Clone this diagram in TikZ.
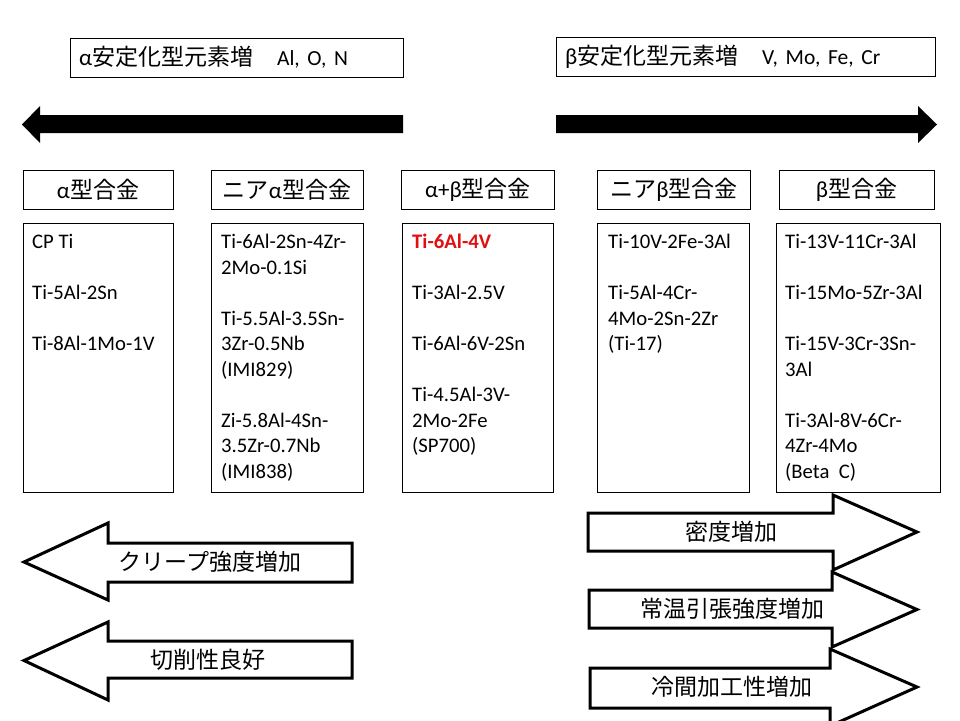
\documentclass[tikz,border=0pt]{standalone}
\usepackage{fontspec}
\setmainfont{Carlito}
\newfontfamily\cjk{Noto Sans CJK JP}
\newcommand{\jtxt}[1]{{\cjk #1}}
\newcommand{\lat}[1]{{\fontsize{21.5}{28}\selectfont #1}}
\definecolor{alloyred}{RGB}{225,15,15}
\tikzset{
  topbox/.style={draw=black, line width=1pt, fill=white, minimum height=39pt, inner xsep=9pt, inner ysep=0pt, align=left, font=\fontsize{23}{28}\selectfont},
  hdrbox/.style={draw=black, line width=1pt, fill=white, minimum height=39pt, inner sep=0pt, font=\fontsize{23}{28}\selectfont},
  listbox/.style={draw=black, line width=1pt, fill=white, inner sep=0pt},
  listtext/.style={anchor=base west, inner sep=0pt, font=\fontsize{20.7}{25.5}\selectfont},
  blockarrow/.style={draw=black, line width=3pt, fill=white, line join=miter},
  bigarrow/.style={fill=black, draw=none},
  arrowlabel/.style={inner sep=0pt, font=\fontsize{23}{28}\selectfont}
}
\begin{document}
\begin{tikzpicture}[x=1pt, y=-1pt]
\useasboundingbox[fill=white] (0,0) rectangle (960,720);

% top boxes
\node[topbox, minimum width=333pt, text width=315pt] (atop) at (236.5,57.5) {α\jtxt{安定化型元素増}\hspace{24pt}\lat{Al, O, N}};
\node[topbox, minimum width=379pt, text width=361pt] (btop) at (745.5,57) {β\jtxt{安定化型元素増}\hspace{24pt}\lat{V, Mo, Fe, Cr}};

% big black arrows
\path[bigarrow] (403,115) -- (40,115) -- (40,106) -- (22,124.5) -- (40,143) -- (40,133) -- (403,133) -- cycle;
\path[bigarrow] (556,115) -- (918,115) -- (918,106) -- (937,124.5) -- (918,143) -- (918,133) -- (556,133) -- cycle;

% header boxes
\node[hdrbox, minimum width=150pt] (h1) at (98,189.5) {α\jtxt{型合金}};
\node[hdrbox, minimum width=152pt] (h2) at (287,189.5) {\jtxt{ニア}α\jtxt{型合金}};
\node[hdrbox, minimum width=153pt] (h3) at (478,189.5) {α+β\jtxt{型合金}};
\node[hdrbox, minimum width=153pt] (h4) at (674,189.5) {\jtxt{ニア}β\jtxt{型合金}};
\node[hdrbox, minimum width=155pt] (h5) at (856.5,189.5) {β\jtxt{型合金}};

% list boxes
\node[listbox, minimum width=150pt, minimum height=269pt] (c1) at (98,357.5) {};
\node[listbox, minimum width=152pt, minimum height=269pt] (c2) at (287,357.5) {};
\node[listbox, minimum width=151pt, minimum height=269pt] (c3) at (477.5,357.5) {};
\node[listbox, minimum width=152pt, minimum height=269pt] (c4) at (673,357.5) {};
\node[listbox, minimum width=164pt, minimum height=269pt] (c5) at (858,357.5) {};

% list texts
\node[listtext] (t1) at (32,248.5) {\parbox[t]{140pt}{\fontsize{20.7}{25.5}\selectfont CP Ti\\[25.5pt]Ti-5Al-2Sn\\[25.5pt]Ti-8Al-1Mo-1V}};
\node[listtext] (t2) at (221,248.5) {\parbox[t]{140pt}{\fontsize{20.7}{25.5}\selectfont Ti-6Al-2Sn-4Zr-\\2Mo-0.1Si\\[25.5pt]Ti-5.5Al-3.5Sn-\\3Zr-0.5Nb\\(IMI829)\\[25.5pt]Zi-5.8Al-4Sn-\\3.5Zr-0.7Nb\\(IMI838)}};
\node[listtext] (t3) at (412,248.5) {\parbox[t]{140pt}{\fontsize{20.7}{25.5}\selectfont \textcolor{alloyred}{\textbf{Ti-6Al-4V}}\\[25.5pt]Ti-3Al-2.5V\\[25.5pt]Ti-6Al-6V-2Sn\\[25.5pt]Ti-4.5Al-3V-\\2Mo-2Fe\\(SP700)}};
\node[listtext] (t4) at (608,248.5) {\parbox[t]{140pt}{\fontsize{20.7}{25.5}\selectfont Ti-10V-2Fe-3Al\\[25.5pt]Ti-5Al-4Cr-\\4Mo-2Sn-2Zr\\(Ti-17)}};
\node[listtext] (t5) at (785,248.5) {\parbox[t]{150pt}{\fontsize{20.7}{25.5}\selectfont Ti-13V-11Cr-3Al\\[25.5pt]Ti-15Mo-5Zr-3Al\\[25.5pt]Ti-15V-3Cr-3Sn-\\3Al\\[25.5pt]Ti-3Al-8V-6Cr-\\4Zr-4Mo\\(Beta~ C)}};

% left block arrows
\path[blockarrow] (352,543) -- (108,543) -- (108,523) -- (24,562) -- (108,600) -- (108,582) -- (352,582) -- cycle;
\node[arrowlabel] (l1) at (210,562) {\jtxt{クリープ強度増加}};
\path[blockarrow] (352,641) -- (108,641) -- (108,622) -- (24,660.5) -- (108,700) -- (108,678) -- (352,678) -- cycle;
\node[arrowlabel] (l2) at (208,660) {\jtxt{切削性良好}};

% right block arrows
\path[blockarrow] (588,513) -- (833,513) -- (833,495) -- (917,532) -- (833,570) -- (833,551) -- (588,551) -- cycle;
\node[arrowlabel] (r1) at (731,532) {\jtxt{密度増加}};
\path[blockarrow] (589,590) -- (832,590) -- (832,572) -- (917,609.5) -- (832,647) -- (832,628) -- (589,628) -- cycle;
\node[arrowlabel] (r2) at (732,609) {\jtxt{常温引張強度増加}};
\path[blockarrow] (590,668) -- (830,668) -- (830,649) -- (917,687) -- (830,726) -- (830,708) -- (590,708) -- cycle;
\node[arrowlabel] (r3) at (732,687) {\jtxt{冷間加工性増加}};
\end{tikzpicture}
\end{document}
